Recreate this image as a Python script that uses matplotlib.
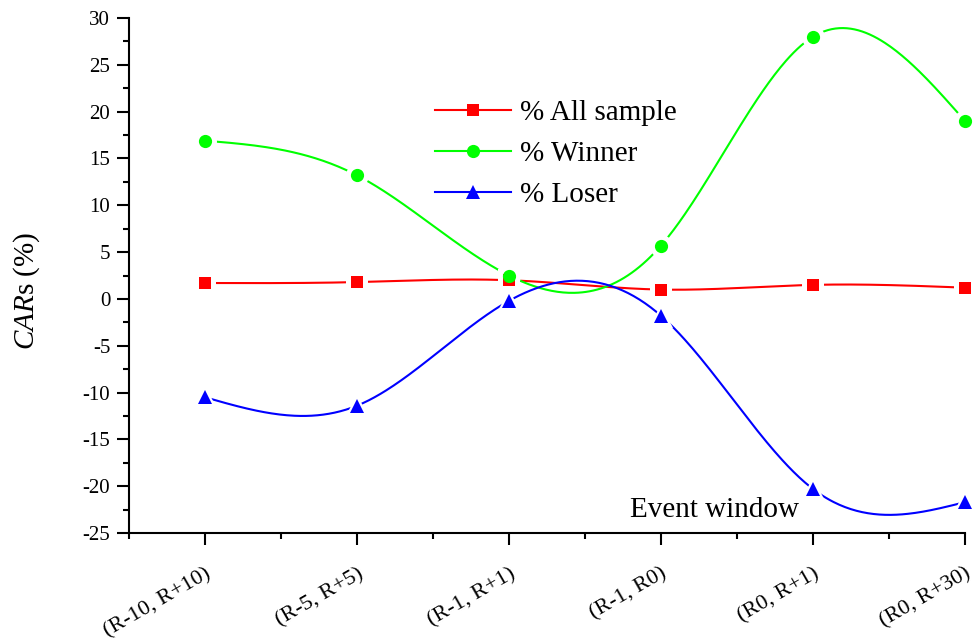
import numpy as np
import matplotlib
matplotlib.use('Agg')
import matplotlib.pyplot as plt
import matplotlib.transforms as mtransforms
from matplotlib.lines import Line2D

plt.rcParams['font.family'] = 'Liberation Serif'
plt.rcParams['mathtext.fontset'] = 'custom'
plt.rcParams['mathtext.rm'] = 'Liberation Serif'
plt.rcParams['mathtext.it'] = 'Liberation Serif:italic'
plt.rcParams['axes.unicode_minus'] = False

windows = ['(R-10, R+10)', '(R-5, R+5)', '(R-1, R+1)', '(R-1, R0)', '(R0, R+1)', '(R0, R+30)']
all_sample = [1.7, 1.8, 2.0, 1.0, 1.5, 1.2]
winner = [16.9, 13.2, 2.5, 5.7, 28.0, 19.0]
loser = [-10.5, -11.4, -0.2, -1.8, -20.3, -21.7]


def natural_spline(x, y, num=400):
    # natural cubic spline, like Origin's spline connect
    x = np.asarray(x, float)
    y = np.asarray(y, float)
    n = len(x)
    h = np.diff(x)
    A = np.zeros((n, n))
    b = np.zeros(n)
    A[0, 0] = 1
    A[-1, -1] = 1
    for i in range(1, n - 1):
        A[i, i - 1] = h[i - 1]
        A[i, i] = 2 * (h[i - 1] + h[i])
        A[i, i + 1] = h[i]
        b[i] = 6 * ((y[i + 1] - y[i]) / h[i] - (y[i] - y[i - 1]) / h[i - 1])
    M = np.linalg.solve(A, b)
    xs = np.linspace(x[0], x[-1], num)
    ys = np.empty_like(xs)
    for k, t in enumerate(xs):
        i = min(np.searchsorted(x, t, side='right') - 1, n - 2)
        a = x[i + 1] - t
        c = t - x[i]
        ys[k] = (M[i] * a ** 3 / (6 * h[i]) + M[i + 1] * c ** 3 / (6 * h[i])
                 + (y[i] / h[i] - M[i] * h[i] / 6) * a
                 + (y[i + 1] / h[i] - M[i + 1] * h[i] / 6) * c)
    return xs, ys


fig = plt.figure(figsize=(9.73, 6.43), dpi=100)
ax = fig.add_axes([0.1326, 0.171, 0.8592, 0.801])

x = np.arange(len(windows))
series = [
    (all_sample, '#ff0000', 's', '% All sample', 9.0),
    (winner, '#00ff00', 'o', '% Winner', 9.5),
    (loser, '#0000ff', '^', '% Loser', 10.5),
]
handles = []
for vals, col, mk, lab, ms in series:
    xs, ys = natural_spline(x, vals)
    ax.plot(xs, ys, color=col, lw=1.5, zorder=2)
    # white halo -> small gap between curve and symbol
    ax.plot(x, vals, ls='none', marker=mk, color='white', ms=ms + 7,
            mew=0, zorder=3, clip_on=False)
    ax.plot(x, vals, ls='none', marker=mk, color=col, ms=ms,
            mew=0, zorder=4, clip_on=False)
    handles.append(Line2D([], [], color=col, lw=1.5, marker=mk, ms=ms, mew=0))

ax.set_xlim(-0.5, 5)
ax.set_ylim(-25, 30)
ax.set_yticks(np.arange(-25, 31, 5))
ax.set_yticks(np.arange(-25, 30.1, 2.5), minor=True)
ax.set_xticks(x)
ax.set_xticks(np.arange(-0.5, 5, 1.0), minor=True)
ax.set_xticklabels(windows, rotation=30, ha='right', va='top',
                   rotation_mode='anchor', fontsize=16)
shift = mtransforms.ScaledTranslation(-8 / 100, 0, fig.dpi_scale_trans)
for lbl in ax.get_xticklabels():
    lbl.set_transform(lbl.get_transform() + shift)
ax.tick_params(axis='y', labelsize=15, pad=5)
ax.tick_params(axis='x', pad=14)
ax.tick_params(which='major', direction='out', length=8.5, width=1.5)
ax.tick_params(which='minor', direction='out', length=4.3, width=1.5)

for s in ['top', 'right']:
    ax.spines[s].set_visible(False)
for s in ['left', 'bottom']:
    ax.spines[s].set_linewidth(1.5)

ax.set_ylabel(r'$\mathit{CAR}$s (%)', fontsize=21)
ax.yaxis.set_label_coords(-0.104, 0.47)
ax.text(3.35, -22.5, 'Event window', fontsize=21, ha='center', va='center')

ax.legend(handles, ['% All sample', '% Winner', '% Loser'], loc='upper left',
          bbox_to_anchor=(0.447, 0.845), bbox_transform=fig.transFigure,
          frameon=False, fontsize=21, handlelength=2.6, labelspacing=0.5,
          handletextpad=0.3, borderpad=0, borderaxespad=0)

fig.savefig('out.png', dpi=100)
